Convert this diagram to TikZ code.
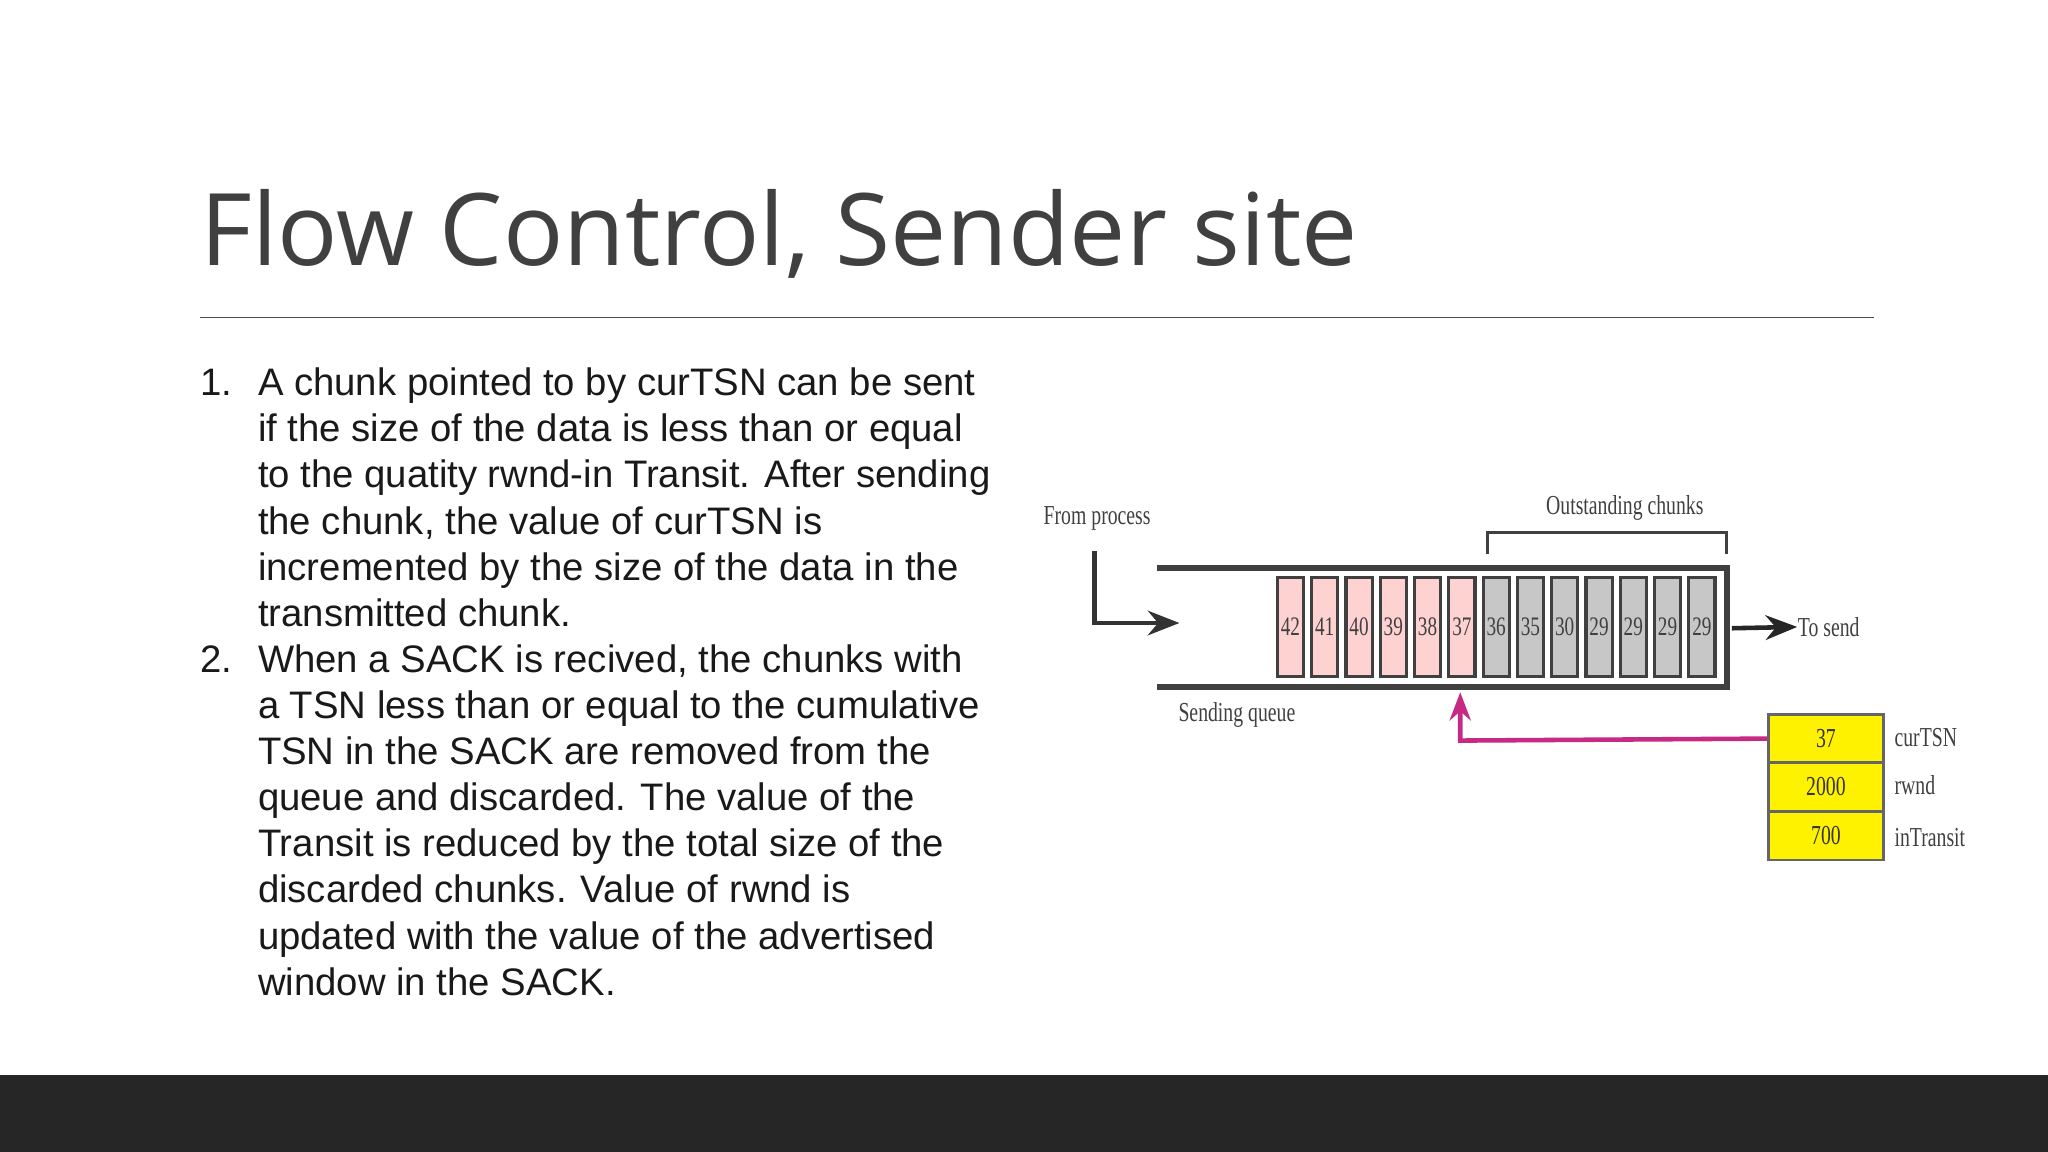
\documentclass[tikz,border=0pt]{standalone}
\usepackage{fontspec}
\usetikzlibrary{arrows.meta}
\setmainfont{Liberation Sans}
\newfontfamily\titlef{Open Sans}
\newfontfamily\cond[FakeStretch=0.72]{Liberation Serif}
\begin{document}
\begin{tikzpicture}[x=0.013061cm,y=-0.013061cm,
  body/.style={anchor=base west,inner sep=0,font=\fontsize{10.9}{13}\selectfont,text=black!90},
  chunk/.style={draw=black!75,line width=0.9pt,minimum width=20*0.013061cm,minimum height=76*0.013061cm,inner sep=0,font=\cond\fontsize{7.6}{8}\selectfont,text=black!75},
  lab/.style={font=\cond\fontsize{7.8}{9}\selectfont,text=black!75,inner sep=0},
  cell/.style={draw=black!60,fill=yellow,line width=0.8pt,minimum width=88*0.013061cm,minimum height=37*0.013061cm,inner sep=0,font=\cond\fontsize{7.8}{9}\selectfont,text=black!80}]
\useasboundingbox (0,0) rectangle (1568,882);
\fill[white] (0,0) rectangle (1568,882);
\fill[black!85] (0,823) rectangle (1568,882);
\node[anchor=base west,inner sep=0,font=\titlef\fontsize{28.5}{32}\selectfont,text=black!75] (title) at (153,203) {Flow Control, Sender site};
\draw[black!70,line width=0.5pt] (153,243) -- (1435,243);
\foreach \t [count=\i] in {{A chunk pointed to by curTSN can be sent},{if the size of the data is less than or equal},{to the quatity rwnd-in Transit. After sending},{the chunk, the value of curTSN is},{incremented by the size of the data in the},{transmitted chunk.},{When a SACK is recived, the chunks with},{a TSN less than or equal to the cumulative},{TSN in the SACK are removed from the},{queue and discarded. The value of the},{Transit is reduced by the total size of the},{discarded chunks. Value of rwnd is},{updated with the value of the advertised},{window in the SACK.}}
  \node[body] (l\i) at (197,{303+35.3*(\i-1)}) {\t};
\node[body] (n1) at (153,303) {1.};
\node[body] (n2) at (153,{303+35.3*6}) {2.};
% queue
\draw[black!75,line width=1.8pt] (886,435) -- (1322,435) -- (1322,526) -- (886,526);
\foreach \v [count=\i] in {42,41,40,39,38,37,36,35,30,29,29,29,29}{
  \pgfmathsetmacro\cx{988+26.25*(\i-1)}
  \ifnum\i<7 \def\fc{pink!70}\else\def\fc{black!22}\fi
  \node[chunk,fill=\fc] (c\i) at (\cx,480) {\v};
}
\draw[black!75,line width=0.8pt] (1139,424) -- (1139,408) -- (1322,408) -- (1322,424);
\node[lab] (out) at (1244,389) {Outstanding chunks};
\node[lab] (fp) at (840,397) {From process};
\coordinate (fpa) at (838,422);
\coordinate (fpb) at (838,477);
\coordinate (fpc) at (903,477);
\draw[black!80,line width=1.2pt,-{Stealth[length=9pt,width=7pt]}] (fpa) -- (fpb) -- (fpc);
\node[lab,anchor=west] (ts) at (1376,480) {To send};
\draw[black!85,line width=1.3pt,-{Stealth[length=9pt,width=7pt]}] (1326,481) -- (ts.west);
\node[lab] (sq) at (947,547) {Sending queue};
\node[cell] (t1) at (1398,565.5) {37};
\node[cell] (t2) at (1398,602.5) {2000};
\node[cell] (t3) at (1398,640) {700};
\node[lab,anchor=west] at (1450,565) {curTSN};
\node[lab,anchor=west] at (1450,601) {rwnd};
\node[lab,anchor=west] at (1450,641) {inTransit};
\coordinate (mk) at (1118,567);
\coordinate (mt) at (1118,530);
\draw[magenta!80!black,line width=1.3pt,-{Stealth[length=8pt,width=6pt]}] (t1.west) -- (mk) -- (mt);
\end{tikzpicture}
\end{document}
